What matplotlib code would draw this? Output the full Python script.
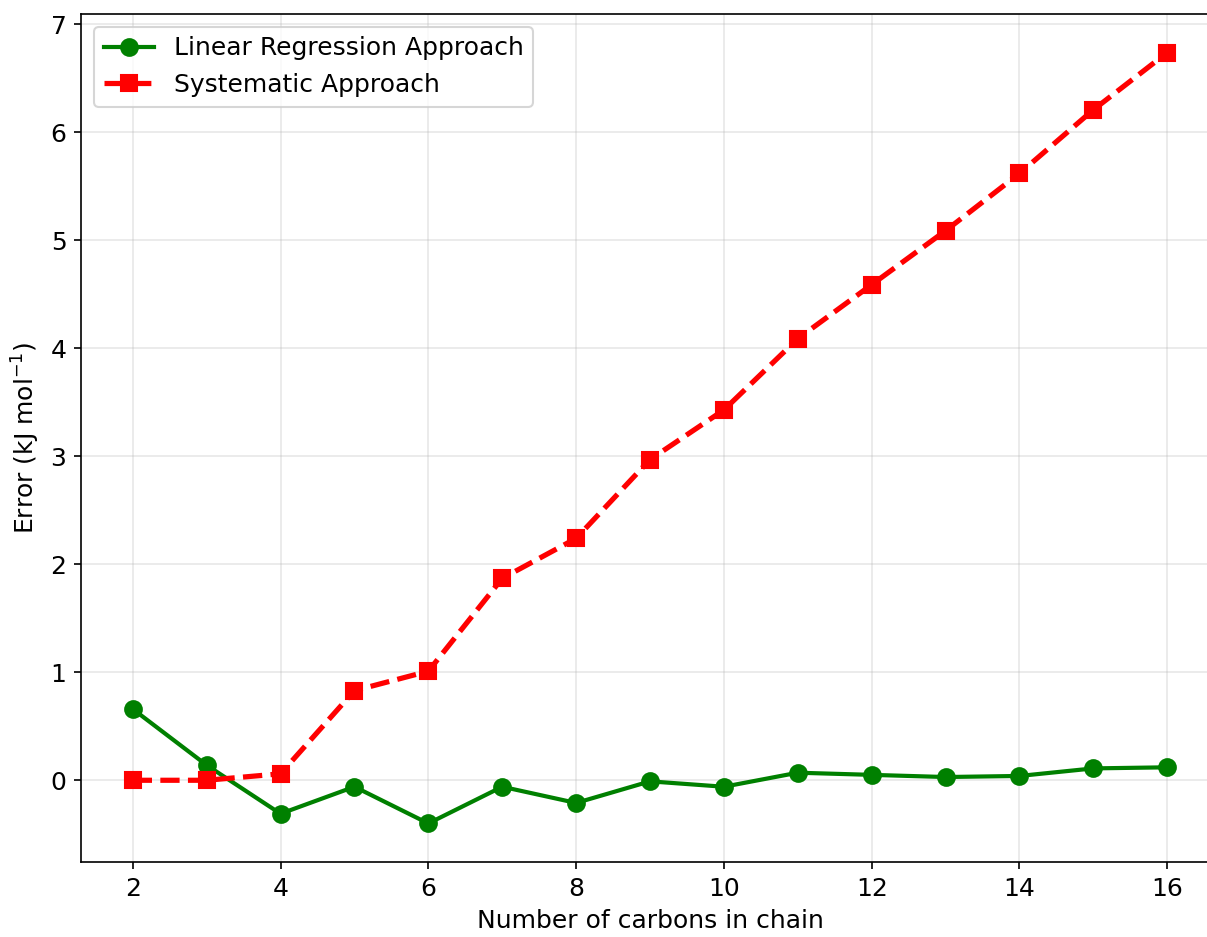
import matplotlib
matplotlib.use("Agg")
import matplotlib.pyplot as plt

carbons = [2, 3, 4, 5, 6, 7, 8, 9, 10, 11, 12, 13, 14, 15, 16]
linear_err = [0.66, 0.14, -0.31, -0.06, -0.40, -0.06, -0.21, -0.01, -0.06, 0.07, 0.05, 0.03, 0.04, 0.11, 0.12]
systematic_err = [0.0, 0.0, 0.06, 0.83, 1.01, 1.87, 2.24, 2.97, 3.43, 4.09, 4.59, 5.09, 5.62, 6.21, 6.74]

plt.rcParams['font.size'] = 12
fig = plt.figure(figsize=(1207/150, 937/150), dpi=150)
ax = fig.add_axes([81/1207, 75/937, (1219-81)/1207, (862-14)/937])

ax.plot(carbons, linear_err, color='green', marker='o', linestyle='-',
        linewidth=2, markersize=8, label='Linear Regression Approach')
ax.plot(carbons, systematic_err, color='red', marker='s', linestyle='--',
        linewidth=2.5, markersize=8, label='Systematic Approach')

ax.set_xlabel('Number of carbons in chain')
ax.set_ylabel('Error (kJ mol$^{-1}$)')
ax.grid(True, alpha=0.3)
ax.legend(loc='upper left')

fig.savefig('out.png', dpi=150)
